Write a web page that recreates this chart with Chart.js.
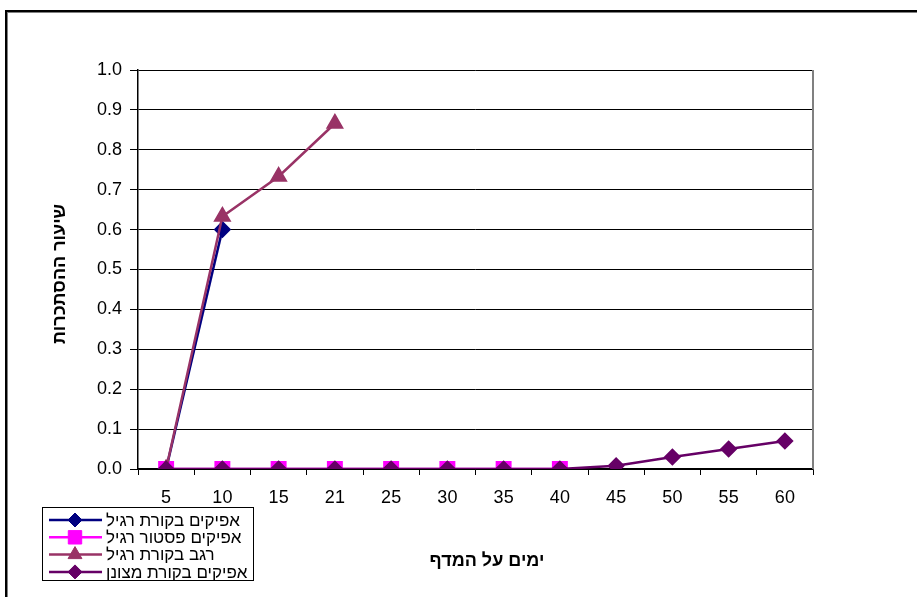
<!DOCTYPE html>
<html>
<head>
<meta charset="utf-8">
<script src="https://cdn.jsdelivr.net/npm/chart.js@4.4.1/dist/chart.umd.min.js"></script>
<style>
  html, body { margin: 0; padding: 0; background: #fff; }
  #wrap { width: 917px; height: 597px; position: relative; }
</style>
</head>
<body>
<div id="wrap"><canvas id="c" width="917" height="597"></canvas></div>
<script>
// Days on shelf
const days = ['5', '10', '15', '21', '25', '30', '35', '40', '45', '50', '55', '60'];

// Series values (share of spoiled samples)
const afikimRegular      = [0, 0.6, null, null, null, null, null, null, null, null, null, null];
const afikimPasteur      = [0, 0, 0, 0, 0, 0, 0, 0, null, null, null, null];
const regevRegular       = [0, 0.633, 0.733, 0.866, null, null, null, null, null, null, null, null];
const afikimRefrigerated = [0, 0, 0, 0, 0, 0, 0, 0, 0.008, 0.03, 0.05, 0.07];

const seriesNames = ['אפיקים בקורת רגיל', 'אפיקים פסטור רגיל', 'רגב בקורת רגיל', 'אפיקים בקורת מצונן'];
const yTickLabels = ['0.0', '0.1', '0.2', '0.3', '0.4', '0.5', '0.6', '0.7', '0.8', '0.9', '1.0'];

const yTitle = 'שיעור ההסתכרות';
const xTitle = 'ימים על המדף';

const FONT = '"Liberation Sans", Arial, sans-serif';

// Frame, axis titles and the boxed legend
const decorations = {
  id: 'decorations',
  beforeDraw(chart) {
    const ctx = chart.ctx;
    ctx.save();
    ctx.fillStyle = '#fff';
    ctx.fillRect(0, 0, chart.width, chart.height);
    ctx.strokeStyle = '#808080';
    ctx.lineWidth = 1;
    ctx.strokeRect(7.5, 12.5, 960, 700);
    ctx.strokeStyle = '#000';
    ctx.lineWidth = 2;
    ctx.strokeRect(6, 11, 960, 700);
    ctx.restore();
  },
  afterDraw(chart) {
    const ctx = chart.ctx;
    const a = chart.chartArea;
    ctx.save();
    // plot area border on the right
    ctx.strokeStyle = '#808080';
    ctx.lineWidth = 2;
    ctx.beginPath();
    ctx.moveTo(a.right, a.top);
    ctx.lineTo(a.right, a.bottom);
    ctx.stroke();

    // axis titles
    ctx.fillStyle = '#000';
    ctx.font = 'bold 18px ' + FONT;
    ctx.textAlign = 'center';
    ctx.textBaseline = 'middle';
    ctx.fillText(xTitle, 487, 561);
    ctx.translate(60, 274);
    ctx.rotate(-Math.PI / 2);
    ctx.fillText(yTitle, 0, 0);
    ctx.restore();

    // legend
    ctx.save();
    ctx.strokeStyle = '#000';
    ctx.lineWidth = 1;
    ctx.strokeRect(42.5, 507.5, 211, 73);
    ctx.font = '17px ' + FONT;
    ctx.textAlign = 'left';
    ctx.textBaseline = 'middle';
    chart.data.datasets.forEach((ds, i) => {
      const y = 520 + i * 17.3;
      ctx.strokeStyle = ds.borderColor;
      ctx.lineWidth = 2.5;
      ctx.beginPath();
      ctx.moveTo(49, y);
      ctx.lineTo(102, y);
      ctx.stroke();
      ctx.fillStyle = ds.pointBackgroundColor;
      ctx.strokeStyle = ds.pointBorderColor;
      ctx.lineWidth = 1;
      Chart.helpers.drawPoint(ctx, { pointStyle: ds.pointStyle, radius: ds.pointRadius, rotation: 0, borderWidth: 1 }, 75, y);
      ctx.fillStyle = '#000';
      ctx.fillText(ds.label, 106, y + 1);
    });
    ctx.restore();
  }
};

function series(label, data, color, style, radius, order) {
  return {
    label, data, order,
    borderColor: color,
    backgroundColor: color,
    pointBackgroundColor: color,
    pointBorderColor: color,
    pointStyle: style,
    pointRadius: radius,
    pointHoverRadius: radius,
    borderWidth: 2.5,
    tension: 0,
    spanGaps: false
  };
}

new Chart(document.getElementById('c'), {
  type: 'line',
  data: {
    labels: days,
    datasets: [
      // later series are painted over earlier ones
      series(seriesNames[0], afikimRegular, '#000080', 'rectRot', 7, 3),
      series(seriesNames[1], afikimPasteur, '#FF00FF', 'rect', 9.5, 2),
      series(seriesNames[2], regevRegular, '#993366', 'triangle', 8, 1),
      series(seriesNames[3], afikimRefrigerated, '#660066', 'rectRot', 7, 0)
    ]
  },
  options: {
    responsive: false,
    animation: false,
    events: [],
    layout: { padding: { top: 70, right: 104, left: 0, bottom: 0 } },
    plugins: { legend: { display: false }, tooltip: { enabled: false } },
    scales: {
      x: {
        offset: true,
        grid: { offset: true, drawOnChartArea: false, color: '#000', tickLength: 6, tickColor: '#000' },
        border: { color: '#000', width: 1.5 },
        ticks: { color: '#000', font: { family: FONT, size: 18 }, padding: 12, maxRotation: 0, autoSkip: false },
        afterFit(s) { s.height = 128; }
      },
      y: {
        min: 0, max: 1,
        grid: { color: '#000', lineWidth: 1, tickLength: 8, tickColor: '#000' },
        border: { color: '#000', width: 1.5 },
        ticks: {
          stepSize: 0.1,
          color: '#000',
          font: { family: FONT, size: 18 },
          padding: 8,
          callback: (v, i) => yTickLabels[i]
        },
        afterFit(s) { s.width = 138; }
      }
    }
  },
  plugins: [decorations]
});
</script>
</body>
</html>
